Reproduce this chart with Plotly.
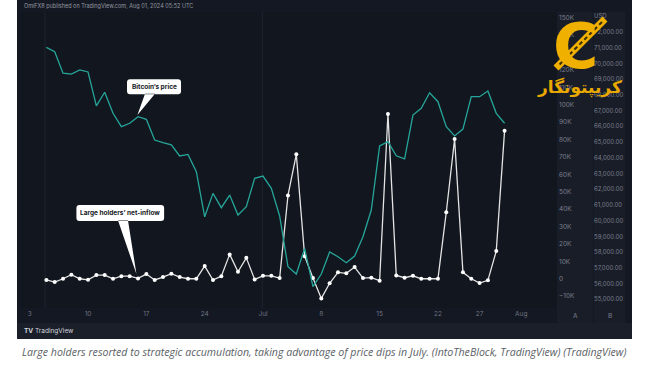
import plotly.graph_objects as go
import pandas as pd

# ---------------- data ----------------
dates = pd.date_range("2024-06-05", "2024-07-30", freq="D")
btc_price = [71030, 70750, 69380, 69330, 69590, 69460, 67300, 68170, 66830, 65980,
             66200, 66620, 66450, 65130, 64960, 64820, 64120, 64220, 63120, 60250,
             61740, 60830, 61630, 60360, 60890, 62700, 62840, 62060, 60300, 57070,
             56610, 58240, 55800, 56610, 58010, 57710, 57330, 57750, 58980, 60680,
             64750, 65030, 64130, 63940, 66720, 67150, 68140, 67570, 65980, 65390,
             65830, 67890, 67890, 68250, 66830, 66200]
net_inflow_k = [-0.7, -1.9, 0, 2.3, 0, -0.6, 2.1, 2.1, 0, 1.5,
                1.5, 0.2, 2.7, -0.7, 1, 2.9, 1, 0, 0, 7.3,
                -0.7, 1.5, 14, 4, 12, -0.4, 1.7, 1.7, 0.4, 47.9,
                71.5, 13, 0.4, -11.3, -2.6, 3.7, 3.1, 6.7, 0.4, 0.6,
                -1.1, 94.7, 1.9, 0.6, 1.7, 0, 0, 0, 38.2, 80.3,
                3.7, 0, -2.5, -0.9, 15.9, 85.1]

x_tick_dates = ["2024-06-03", "2024-06-10", "2024-06-17", "2024-06-24", "2024-07-01",
                "2024-07-08", "2024-07-15", "2024-07-22", "2024-07-27", "2024-08-01"]
x_tick_labels = ["3", "10", "17", "24", "Jul", "8", "15", "22", "27", "Aug"]

inflow_ticks = list(range(-10, 151, 10))
inflow_labels = ["\u221210K" if v < 0 else ("0" if v == 0 else f"{v}K") for v in inflow_ticks]
price_ticks = list(range(55000, 73001, 1000))
price_labels = [f"{v:,}.00" for v in price_ticks[:-1]] + ["USD"]

header = "OmiFX8 published on TradingView.com, Aug 01, 2024 05:52 UTC"
caption = ("Large holders resorted to strategic accumulation, taking advantage of price dips "
           "in July. (IntoTheBlock, TradingView) (TradingView)")

# ---------------- geometry helpers ----------------
W, H = 650, 365
L, R, T, B = 20, 22, 10, 57
PW, PH = W - L - R, H - T - B


def px(x):
    return (x - L) / PW


def py(y):
    return (H - B - y) / PH


def rrect(x0, y0, x1, y1, r):
    return (f"M {x0+r},{y0} L {x1-r},{y0} Q {x1},{y0} {x1},{y0+r} "
            f"L {x1},{y1-r} Q {x1},{y1} {x1-r},{y1} L {x0+r},{y1} "
            f"Q {x0},{y1} {x0},{y1-r} L {x0},{y0+r} Q {x0},{y0} {x0+r},{y0} Z")


GREEN = "#26a69a"
GOLD = "#f0b000"
TICK = "#7a7f8c"
UI_FONT = "Inter, Roboto, sans-serif"

fig = go.Figure()
fig.add_trace(go.Scatter(x=dates, y=btc_price, yaxis="y2", mode="lines",
                         line=dict(color=GREEN, width=1.3), hoverinfo="skip"))
fig.add_trace(go.Scatter(x=dates, y=net_inflow_k, yaxis="y", mode="lines+markers",
                         line=dict(color="#e4e4e4", width=1.3),
                         marker=dict(size=4, color="#ffffff"), hoverinfo="skip"))

shapes = []
# dark panel and sub regions
shapes.append(dict(type="rect", xref="paper", yref="paper", layer="below",
                   x0=px(17), x1=px(632), y0=py(339), y1=py(0),
                   fillcolor="#141822", line=dict(width=0)))
shapes.append(dict(type="rect", xref="paper", yref="paper", layer="below",
                   x0=px(20), x1=px(557), y0=py(308), y1=py(12),
                   fillcolor="#12161f", line=dict(width=0)))
shapes.append(dict(type="rect", xref="paper", yref="paper", layer="below",
                   x0=px(557), x1=px(593), y0=py(323), y1=py(12),
                   fillcolor="#191d28", line=dict(width=0)))
shapes.append(dict(type="rect", xref="paper", yref="paper", layer="below",
                   x0=px(594), x1=px(625), y0=py(323), y1=py(12),
                   fillcolor="#191d28", line=dict(width=0)))
shapes.append(dict(type="rect", xref="paper", yref="paper", layer="below",
                   x0=px(17), x1=px(632), y0=py(339), y1=py(323),
                   fillcolor="#1b1f2a", line=dict(width=0)))
# faint vertical separators
for d in ["2024-06-04 20:00", "2024-06-30 22:00"]:
    shapes.append(dict(type="line", xref="x", yref="paper", layer="below",
                       x0=d, x1=d, y0=py(308), y1=py(12),
                       line=dict(color="#1f2430", width=1)))

# callouts anchored to data points
i_call = 11
shapes.append(dict(type="path", xref="x", yref="y2", xsizemode="pixel", ysizemode="pixel",
                   xanchor=dates[i_call], yanchor=btc_price[i_call], layer="above",
                   path=rrect(-11, 22.3, 43, 37.3, 3) + " M 7,23 L 17,23 L -0.6,1.7 Z",
                   fillcolor="#ffffff", line=dict(width=0)))
shapes.append(dict(type="path", xref="x", yref="y", xsizemode="pixel", ysizemode="pixel",
                   xanchor=dates[i_call], yanchor=net_inflow_k[i_call], layer="above",
                   path=rrect(-61.6, 57.3, 26.1, 73.3, 3) + " M -20,58 L -10,58 L -1.6,4.3 Z",
                   fillcolor="#ffffff", line=dict(width=0)))

# watermark chain (drawn above the big C via ordering of annotations below)
shapes.append(dict(type="line", xref="paper", yref="paper", layer="above",
                   x0=px(605), y0=py(19), x1=px(556), y1=py(68),
                   line=dict(color=GOLD, width=7)))
shapes.append(dict(type="line", xref="paper", yref="paper", layer="above",
                   x0=px(602), y0=py(22), x1=px(559), y1=py(65),
                   line=dict(color="#3a2c05", width=2, dash="4px,3px")))

annotations = [
    dict(x=dates[i_call], y=btc_price[i_call], xref="x", yref="y2", showarrow=False,
         xanchor="center", yanchor="middle",
         xshift=16, yshift=29.8, text="<b>Bitcoin\u2019s price</b>",
         font=dict(family=UI_FONT, size=6.5, color="#131722")),
    dict(x=dates[i_call], y=net_inflow_k[i_call], xref="x", yref="y", showarrow=False,
         xanchor="center", yanchor="middle",
         xshift=-17.7, yshift=65.3, text="<b>Large holders\u2019 net-inflow</b>",
         font=dict(family=UI_FONT, size=6.5, color="#131722")),
    dict(x=px(22), y=py(6), xref="paper", yref="paper", xanchor="left", yanchor="middle",
         showarrow=False, text=header,
         font=dict(family=UI_FONT, size=5.5, color="#9598a1")),
    dict(x=px(22), y=py(331), xref="paper", yref="paper", xanchor="left", yanchor="middle",
         showarrow=False, text="<b>TV</b> TradingView",
         font=dict(family=UI_FONT, size=6.5, color="#d1d4dc")),
    dict(x=px(575), y=py(316), xref="paper", yref="paper", showarrow=False, text="A",
         xanchor="center", yanchor="middle",
         font=dict(family=UI_FONT, size=6.5, color=TICK)),
    dict(x=px(610), y=py(316), xref="paper", yref="paper", showarrow=False, text="B",
         xanchor="center", yanchor="middle",
         font=dict(family=UI_FONT, size=6.5, color=TICK)),
    dict(x=px(576), y=py(47), xref="paper", yref="paper", showarrow=False, text="<b>C</b>",
         xanchor="center", yanchor="middle",
         font=dict(family="DejaVu Sans", size=62, color=GOLD)),
    dict(x=px(579), y=py(87), xref="paper", yref="paper", showarrow=False,
         xanchor="center", yanchor="middle",
         text="<b>کریپتونگار</b>",
         font=dict(family="DejaVu Sans", size=17, color="#e8a800")),
    dict(x=px(20), y=py(352), xref="paper", yref="paper", xanchor="left", yanchor="middle",
         showarrow=False, text=caption,
         font=dict(family="Open Sans", size=10.6, color="#5b6166", style="italic")),
]

fig.update_layout(
    width=W, height=H,
    margin=dict(l=L, r=R, t=T, b=B, autoexpand=False),
    paper_bgcolor="#ffffff", plot_bgcolor="rgba(0,0,0,0)",
    showlegend=False,
    xaxis=dict(domain=[0, px(557)], range=["2024-06-01 20:00", "2024-08-05 07:00"],
               tickvals=x_tick_dates, ticktext=x_tick_labels, showgrid=False,
               zeroline=False, showline=False, ticks="",
               tickfont=dict(family=UI_FONT, size=6.5, color="#6f7482")),
    yaxis=dict(range=[-16.8, 154.4], anchor="free", position=px(558), side="right",
               tickvals=inflow_ticks, ticktext=inflow_labels, showgrid=False,
               zeroline=False, showline=False, ticks="",
               tickfont=dict(family=UI_FONT, size=6.5, color=TICK)),
    yaxis2=dict(range=[54447, 73403], anchor="free", position=px(593), side="right",
                overlaying="y", tickvals=price_ticks, ticktext=price_labels,
                showgrid=False, zeroline=False, showline=False, ticks="",
                tickfont=dict(family=UI_FONT, size=6, color=TICK)),
    shapes=shapes, annotations=annotations,
)

fig.write_html("out.html", config={"displayModeBar": False},
               post_script="document.body.style.margin='0';")
